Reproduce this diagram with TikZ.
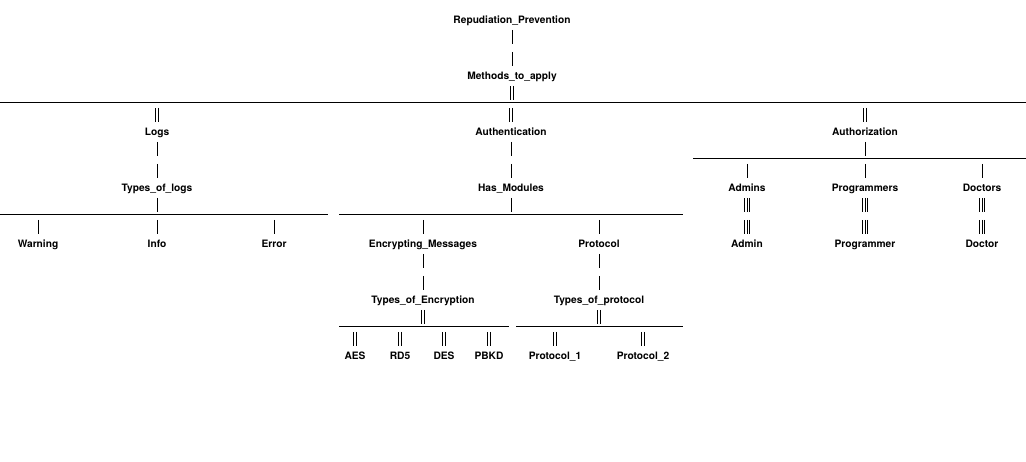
\documentclass[tikz,border=0pt]{standalone}
\usepackage{fontspec}
\setmainfont{TeX Gyre Heros}
\usetikzlibrary{calc}
\tikzset{
  lbl/.style={font=\fontsize{10.2}{12}\selectfont\bfseries, inner sep=0pt, anchor=center, text height=7.3pt, text depth=0pt},
  wire/.style={line width=0.8pt, black},
  one/.style={wire},
  two/.style={wire, double, double distance=1.9pt},
  tri/.style={wire, double, double distance=3.8pt},
}
% tick below a node and tick above a node
\newcommand\tkdown[2]{\draw[#2] ($(#1)+(0,10)$) -- ++(0,14);}
\newcommand\tkup[2]{\draw[#2] ($(#1)+(0,-24)$) -- ++(0,14);}
\newcommand\tkdownthree[1]{\tkdown{#1}{tri}\tkdown{#1}{one}}
\newcommand\tkupthree[1]{\tkup{#1}{tri}\tkup{#1}{one}}
\begin{document}
\begin{tikzpicture}[x=1pt,y=-1pt]
\useasboundingbox[fill=white] (0,0) rectangle (1026,462);
% nodes
\node[lbl] (rp)  at (512,20)  {Repudiation\_Prevention};
\node[lbl] (mta) at (512,76)  {Methods\_to\_apply};
\node[lbl] (logs) at (157,132) {Logs};
\node[lbl] (auth) at (511,132) {Authentication};
\node[lbl] (authz) at (865,132) {Authorization};
\node[lbl] (tol) at (157,188) {Types\_of\_logs};
\node[lbl] (hm)  at (511,188) {Has\_Modules};
\node[lbl] (adms) at (747,188) {Admins};
\node[lbl] (prgs) at (865,188) {Programmers};
\node[lbl] (docs) at (982,188) {Doctors};
\node[lbl] (warn) at (38,244) {Warning};
\node[lbl] (info) at (157,244) {Info};
\node[lbl] (err)  at (274,244) {Error};
\node[lbl] (em)   at (423,244) {Encrypting\_Messages};
\node[lbl] (prot) at (599,244) {Protocol};
\node[lbl] (adm)  at (747,244) {Admin};
\node[lbl] (prg)  at (865,244) {Programmer};
\node[lbl] (doc)  at (982,244) {Doctor};
\node[lbl] (toe)  at (423,300) {Types\_of\_Encryption};
\node[lbl] (top)  at (599,300) {Types\_of\_protocol};
\node[lbl] (aes)  at (355,356) {AES};
\node[lbl] (rd5)  at (400,356) {RD5};
\node[lbl] (des)  at (444,356) {DES};
\node[lbl] (pbkd) at (489,356) {PBKD};
\node[lbl] (p1)   at (555,356) {Protocol\_1};
\node[lbl] (p2)   at (643,356) {Protocol\_2};
% bus lines
\coordinate (b1l) at (0,102);   \coordinate (b1r) at (1026,102);
\coordinate (b2l) at (693,158); \coordinate (b2r) at (1026,158);
\coordinate (b3l) at (0,214);   \coordinate (b3r) at (328,214);
\coordinate (b4l) at (339,214); \coordinate (b4r) at (683,214);
\coordinate (b5l) at (339,326); \coordinate (b5r) at (509,326);
\coordinate (b6l) at (516,326); \coordinate (b6r) at (683,326);
\foreach \a/\b in {b1l/b1r,b2l/b2r,b3l/b3r,b4l/b4r,b5l/b5r,b6l/b6r}
  \draw[wire] (\a) -- (\b);
% connectors
\tkdown{rp}{one} \tkup{mta}{one}
\tkdown{mta}{two}
\tkup{logs}{two} \tkup{auth}{two} \tkup{authz}{two}
\tkdown{logs}{one} \tkup{tol}{one}
\tkdown{auth}{one} \tkup{hm}{one}
\tkdown{authz}{one}
\tkup{adms}{one} \tkup{prgs}{one} \tkup{docs}{one}
\tkdown{tol}{one}
\tkup{warn}{one} \tkup{info}{one} \tkup{err}{one}
\tkdown{hm}{one}
\tkup{em}{one} \tkup{prot}{one}
\tkdownthree{adms} \tkupthree{adm}
\tkdownthree{prgs} \tkupthree{prg}
\tkdownthree{docs} \tkupthree{doc}
\tkdown{em}{one} \tkup{toe}{one}
\tkdown{prot}{one} \tkup{top}{one}
\tkdown{toe}{two}
\tkup{aes}{two} \tkup{rd5}{two} \tkup{des}{two} \tkup{pbkd}{two}
\tkdown{top}{two}
\tkup{p1}{two} \tkup{p2}{two}
\end{tikzpicture}
\end{document}
